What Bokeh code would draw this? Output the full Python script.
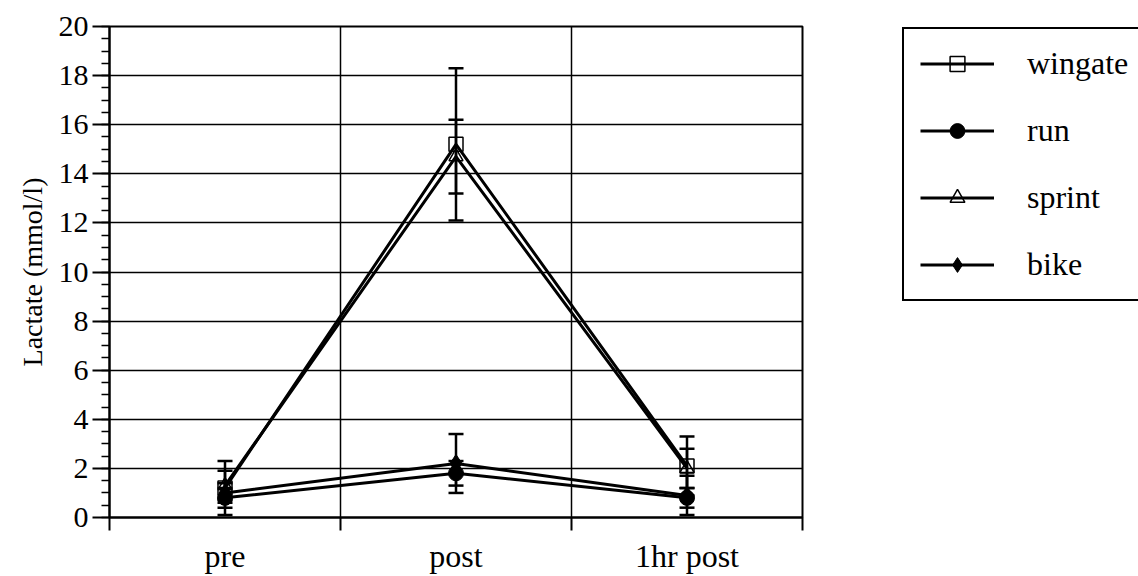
from bokeh.plotting import figure
from bokeh.layouts import row
from bokeh.models import (ColumnDataSource, Range1d, FixedTicker, SingleIntervalTicker,
                          Whisker, TeeHead, Legend, LegendItem)
from bokeh.embed import file_html
from bokeh.resources import INLINE

categories = ["pre", "post", "1hr post"]
cat_pos = [0.5, 1.5, 2.5]

wingate = [1.2, 15.2, 2.1]
wingate_err = [1.1, 3.1, 1.2]
run = [0.8, 1.8, 0.8]
run_err = [0.4, 0.5, 0.4]
sprint = [1.3, 14.7, 2.0]
sprint_err = [0.6, 1.5, 0.8]
bike = [1.0, 2.2, 0.9]
bike_err = [0.4, 1.2, 0.8]

y_ticks = list(range(0, 21, 2))

FONT = "Liberation Serif"

MAIN_W = 830
p = figure(width=MAIN_W, height=576, output_backend="svg", toolbar_location=None,
           x_range=Range1d(0, 3), y_range=Range1d(0, 20),
           min_border_left=109, min_border_right=MAIN_W - 802, min_border_top=26,
           min_border_bottom=59)
p.background_fill_color = "white"
p.border_fill_color = "white"
p.outline_line_color = "black"
p.outline_line_width = 2

# grids
p.xgrid.ticker = FixedTicker(ticks=[0, 1, 2, 3])
p.xgrid.grid_line_color = "black"
p.xgrid.grid_line_width = 1.5
p.ygrid.ticker = FixedTicker(ticks=y_ticks)
p.ygrid.grid_line_color = "black"
p.ygrid.grid_line_width = 1.5

# x axis
xa = p.xaxis[0]
xa.ticker = FixedTicker(ticks=cat_pos, minor_ticks=[0, 1, 2, 3])
xa.major_label_overrides = {k: v for k, v in zip(cat_pos, categories)}
xa.major_tick_out = 0
xa.major_tick_in = 0
xa.minor_tick_out = 13
xa.minor_tick_in = 0
xa.minor_tick_line_color = "black"
xa.minor_tick_line_width = 2
xa.axis_line_width = 2
xa.axis_line_color = "black"
xa.major_label_standoff = 7
xa.major_label_text_font = FONT
xa.major_label_text_font_size = "32px"
xa.major_label_text_color = "black"

# y axis
ya = p.yaxis[0]
ya.ticker = SingleIntervalTicker(interval=2, num_minor_ticks=4)
ya.major_tick_out = 17
ya.major_tick_in = 0
ya.minor_tick_out = 8
ya.minor_tick_in = 0
ya.major_tick_line_width = 2
ya.minor_tick_line_width = 1.5
ya.major_tick_line_color = "black"
ya.minor_tick_line_color = "black"
ya.axis_line_width = 2
ya.axis_line_color = "black"
ya.major_label_standoff = 4
ya.major_label_text_font = FONT
ya.major_label_text_font_size = "30px"
ya.major_label_text_color = "black"
ya.axis_label = "Lactate (mmol/l)"
ya.axis_label_text_font = FONT
ya.axis_label_text_font_size = "28px"
ya.axis_label_text_font_style = "normal"
ya.axis_label_text_color = "black"
ya.axis_label_standoff = 8

series = [
    ("wingate", wingate, wingate_err, "square", 14, None),
    ("run", run, run_err, "circle", 15, "black"),
    ("sprint", sprint, sprint_err, "triangle", 14, None),
    ("bike", bike, bike_err, "diamond", 18, "black"),
]

# legend figure (to the right of the chart); its ranges keep the proxy data out of view
LEG_W = 1138 - MAIN_W
q = figure(width=LEG_W, height=576, output_backend="svg", toolbar_location=None,
           x_range=Range1d(100, 101), y_range=Range1d(100, 101),
           x_axis_location=None, y_axis_location=None,
           min_border_left=0, min_border_right=0, min_border_top=0, min_border_bottom=0)
q.grid.visible = False
q.outline_line_color = None
q.background_fill_color = "white"
q.border_fill_color = "white"

items = []
for name, vals, errs, marker, size, fill in series:
    src = ColumnDataSource(dict(
        x=cat_pos, y=vals,
        upper=[v + e for v, e in zip(vals, errs)],
        lower=[v - e for v, e in zip(vals, errs)]))
    w = Whisker(base="x", upper="upper", lower="lower", source=src,
                line_color="black", line_width=2.5,
                upper_head=TeeHead(size=15, line_width=2.5, line_color="black"),
                lower_head=TeeHead(size=15, line_width=2.5, line_color="black"))
    p.add_layout(w)
    p.line("x", "y", source=src, line_color="black", line_width=3)
    if fill is None:
        p.scatter("x", "y", source=src, marker=marker, size=size,
                  line_color="black", line_width=1.5, fill_alpha=0)
    else:
        p.scatter("x", "y", source=src, marker=marker, size=size,
                  line_color="black", fill_color=fill)
    # legend proxies: same data, outside the legend figure's visible range
    lr = q.line("x", "y", source=src, line_color="black", line_width=3)
    if fill is None:
        sr = q.scatter("x", "y", source=src, marker=marker, size=size,
                       line_color="black", line_width=1.5, fill_alpha=0)
    else:
        sr = q.scatter("x", "y", source=src, marker=marker, size=size,
                       line_color="black", fill_color=fill)
    items.append(LegendItem(label=name, renderers=[lr, sr]))

legend = Legend(items=items, location=(902 - MAIN_W, 216))
legend.label_text_font = FONT
legend.label_text_font_size = "32px"
legend.label_text_color = "black"
legend.border_line_color = "black"
legend.border_line_width = 2
legend.border_line_alpha = 1
legend.background_fill_color = "white"
legend.background_fill_alpha = 1
legend.glyph_width = 74
legend.glyph_height = 37
legend.label_height = 37
legend.spacing = 30
legend.padding = 16
legend.margin = 0
legend.label_standoff = 33
legend.label_width = 130
q.add_layout(legend, "center")

layout = row(p, q)
open("out.html", "w").write(file_html(layout, INLINE))
